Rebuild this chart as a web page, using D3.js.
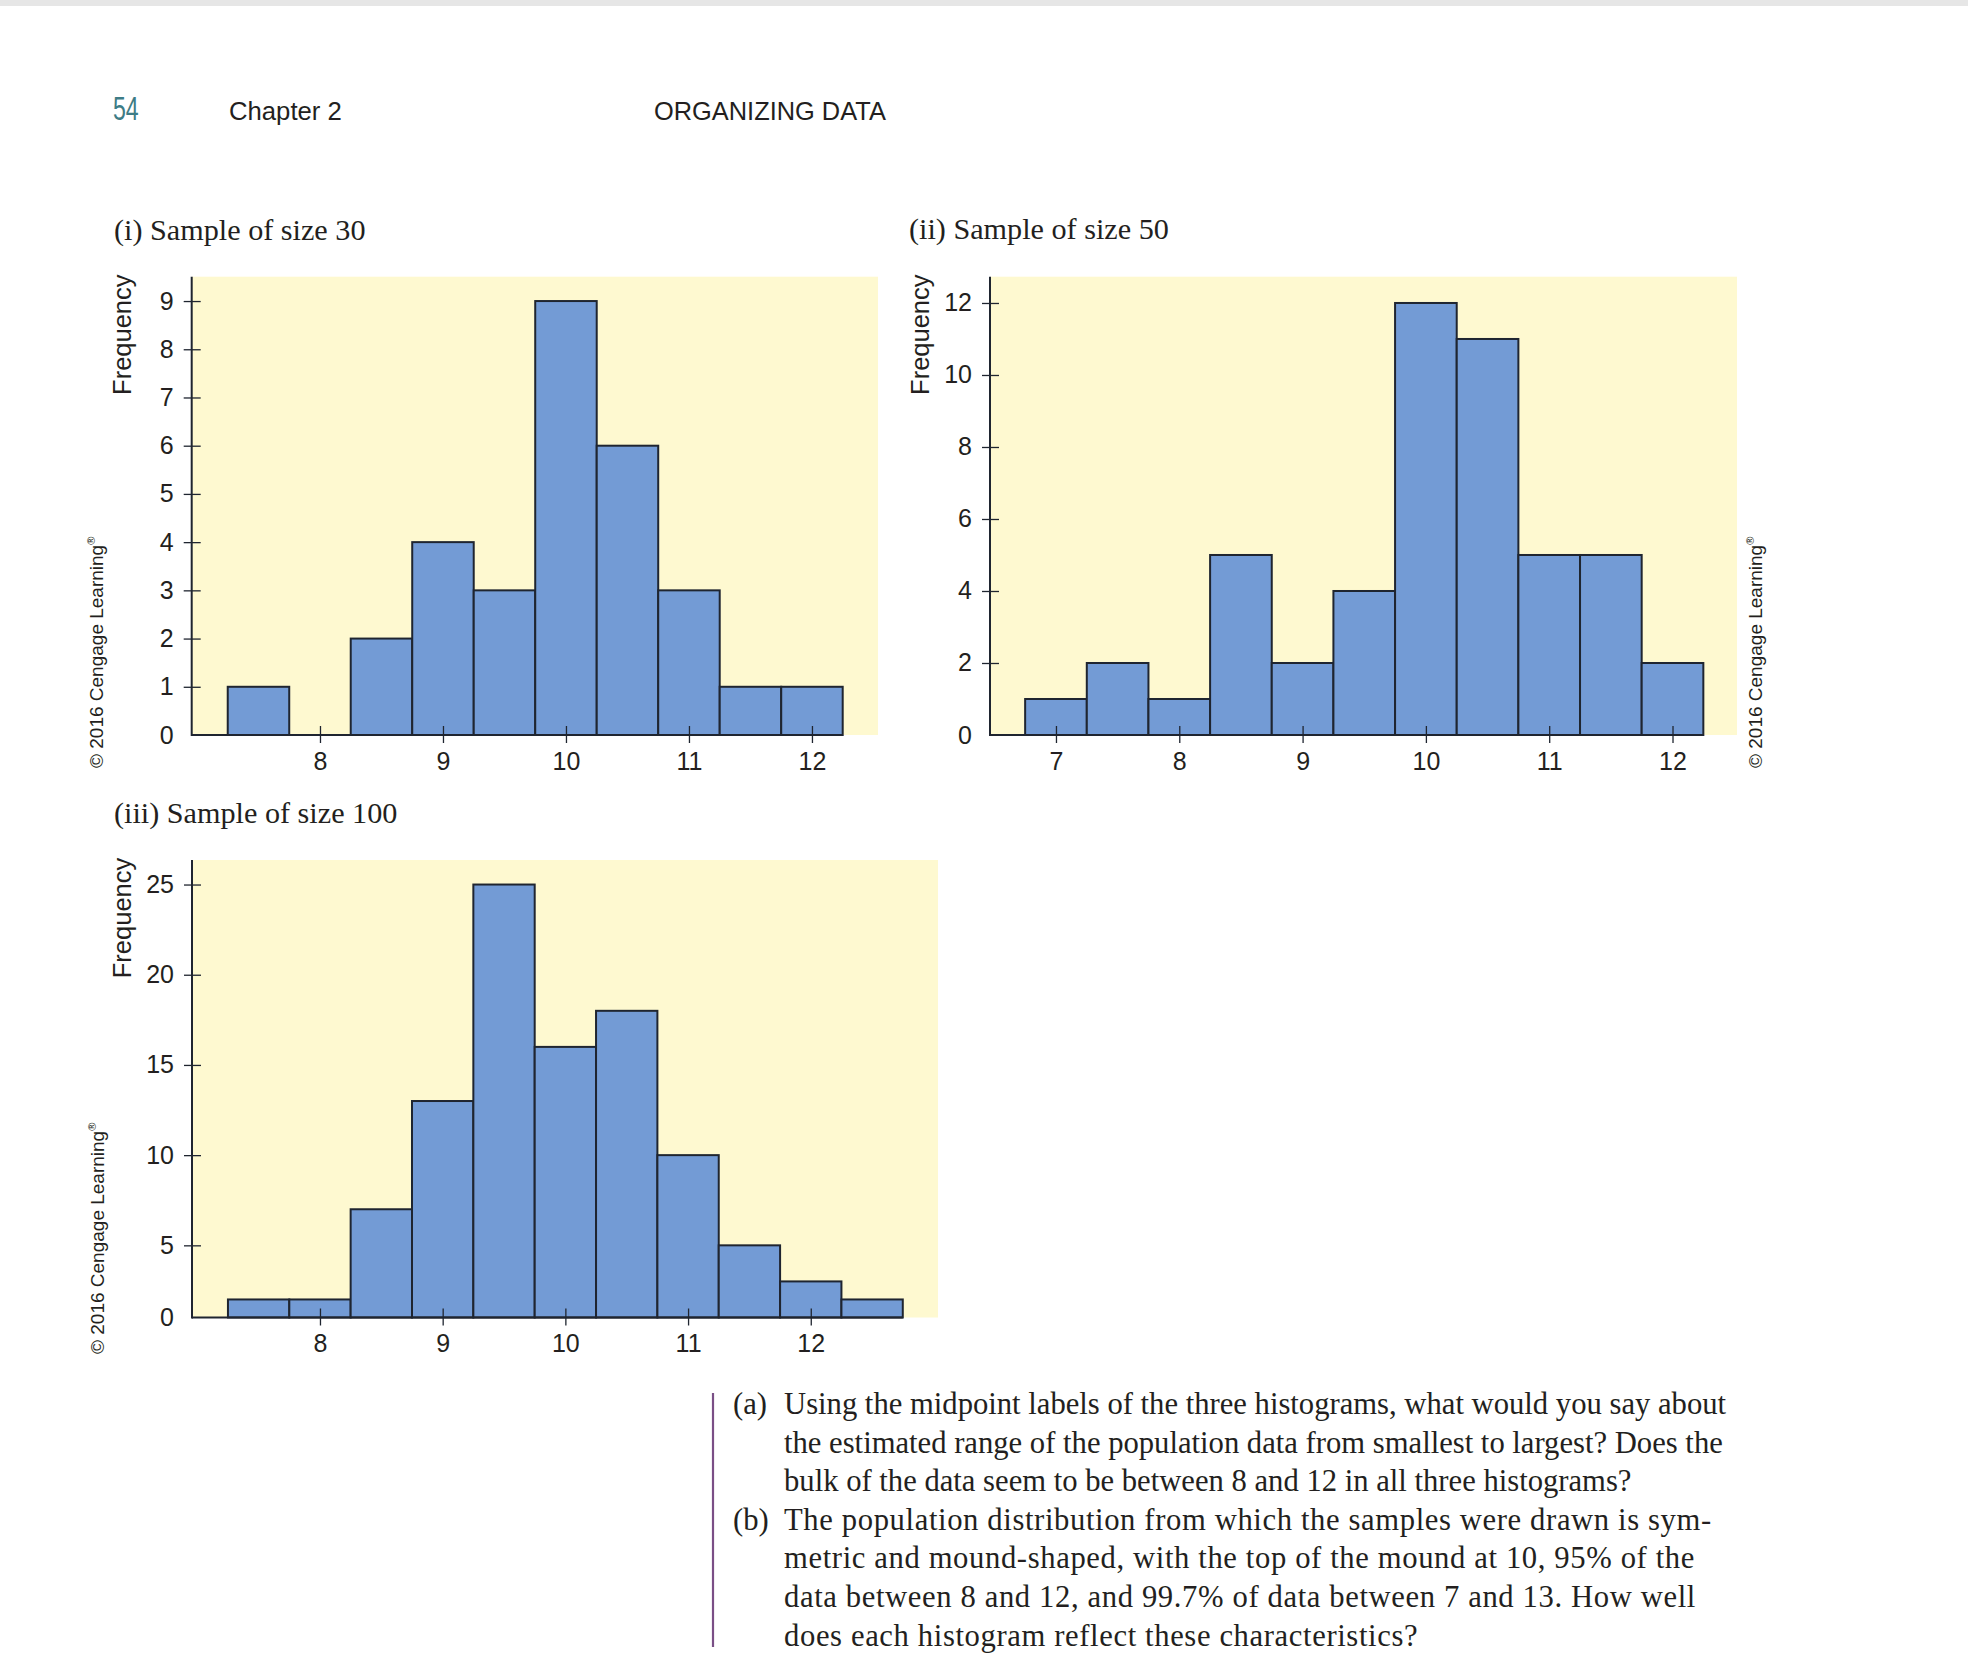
<!DOCTYPE html>
<html>
<head>
<meta charset="utf-8">
<script src="https://cdn.jsdelivr.net/npm/d3@7"></script>
<style>
  html, body { margin: 0; padding: 0; background: #ffffff; }
  svg { display: block; }
</style>
</head>
<body>
<svg id="page" width="1968" height="1678"></svg>
<script>
// ---------- data ----------
const binWidth = 0.5;

const binMid30  = [7.5, 8, 8.5, 9, 9.5, 10, 10.5, 11, 11.5, 12];
const freq30    = [1, 0, 2, 4, 3, 9, 6, 3, 1, 1];
const yTicks30  = [1, 2, 3, 4, 5, 6, 7, 8, 9];
const xTicks30  = [8, 9, 10, 11, 12];

const binMid50  = [7, 7.5, 8, 8.5, 9, 9.5, 10, 10.5, 11, 11.5, 12];
const freq50    = [1, 2, 1, 5, 2, 4, 12, 11, 5, 5, 2];
const yTicks50  = [2, 4, 6, 8, 10, 12];
const xTicks50  = [7, 8, 9, 10, 11, 12];

const binMid100 = [7.5, 8, 8.5, 9, 9.5, 10, 10.5, 11, 11.5, 12, 12.5];
const freq100   = [2, 2, 7, 13, 25, 16, 18, 10, 5, 3, 2];
const yTicks100 = [5, 10, 15, 20, 25];
const xTicks100 = [8, 9, 10, 11, 12];

const titles = ["(i) Sample of size 30", "(ii) Sample of size 50", "(iii) Sample of size 100"];
const yLabel = "Frequency";
const copyright = "\u00A9 2016 Cengage Learning";

const questionLines = [
  ["(a)", "Using the midpoint labels of the three histograms, what would you say about", 0],
  ["",    "the estimated range of the population data from smallest to largest? Does the", 0],
  ["",    "bulk of the data seem to be between 8 and 12 in all three histograms?", 0],
  ["(b)", "The population distribution from which the samples were drawn is sym-", 1],
  ["",    "metric and mound-shaped, with the top of the mound at 10, 95% of the", 1],
  ["",    "data between 8 and 12, and 99.7% of data between 7 and 13. How well", 1],
  ["",    "does each histogram reflect these characteristics?", 1]
];

// ---------- style ----------
const BG = "#fef9d0";
const BAR = "#739bd5";
const STROKE = "#1f2530";
const INK = "#231f20";
const SANS = "'Liberation Sans', Arial, Helvetica, sans-serif";
const SERIF = "'Liberation Serif', 'Times New Roman', Times, serif";

const svg = d3.select("#page");

// top grey band
svg.append("rect").attr("x", 0).attr("y", 0).attr("width", 1968).attr("height", 6).attr("fill", "#e6e6e6");

// header
svg.append("text").attr("transform", "translate(113,120) scale(0.68,1)")
  .attr("font-family", SANS).attr("font-size", 34).attr("fill", "#3d7c86").text("54");
svg.append("text").attr("x", 229).attr("y", 120)
  .attr("font-family", SANS).attr("font-size", 25.7).attr("fill", INK).text("Chapter 2");
svg.append("text").attr("x", 654).attr("y", 120)
  .attr("font-family", SANS).attr("font-size", 25.4).attr("fill", INK).text("ORGANIZING DATA");

// ---------- histogram ----------
function drawHist(cfg) {
  const x = d3.scaleLinear().domain(cfg.xDomain).range([cfg.left, cfg.right]);
  const y = d3.scaleLinear().domain([cfg.yBase, cfg.yMax]).range([cfg.bottom, cfg.top]);
  const g = svg.append("g");

  // title
  svg.append("text").attr("x", cfg.titleX).attr("y", cfg.titleY)
    .attr("font-family", SERIF).attr("font-size", 30.2).attr("fill", INK).text(cfg.title);

  // background
  g.append("rect").attr("x", cfg.left).attr("y", cfg.top)
    .attr("width", cfg.right - cfg.left).attr("height", cfg.bottom - cfg.top).attr("fill", BG);

  // bars
  const data = cfg.mids.map((m, i) => ({ m: m, f: cfg.freqs[i] })).filter(d => d.f > cfg.yBase);
  g.selectAll("rect.bar").data(data).join("rect").attr("class", "bar")
    .attr("x", d => x(d.m - binWidth / 2))
    .attr("width", d => x(d.m + binWidth / 2) - x(d.m - binWidth / 2))
    .attr("y", d => y(d.f))
    .attr("height", d => y(cfg.yBase) - y(d.f))
    .attr("fill", BAR).attr("stroke", STROKE).attr("stroke-width", 2);

  // baseline
  const lastRight = x(cfg.mids[cfg.mids.length - 1] + binWidth / 2);
  g.append("line").attr("x1", cfg.left).attr("x2", lastRight)
    .attr("y1", cfg.bottom).attr("y2", cfg.bottom)
    .attr("stroke", STROKE).attr("stroke-width", 2.2);

  // x axis
  const xa = g.append("g").attr("transform", `translate(0,${cfg.bottom})`)
    .call(d3.axisBottom(x).tickValues(cfg.xTicks).tickFormat(d3.format("d"))
      .tickSizeInner(8).tickSizeOuter(0).tickPadding(9));
  xa.select(".domain").remove();
  xa.selectAll(".tick line").attr("y1", -9).attr("y2", 8).attr("stroke", STROKE).attr("stroke-width", 1.3);
  xa.selectAll(".tick text").attr("font-family", SANS).attr("font-size", 25).attr("fill", INK);

  // y axis
  const ya = g.append("g").attr("transform", `translate(${cfg.left},0)`)
    .call(d3.axisLeft(y).tickValues(cfg.yTicks).tickFormat(d3.format("d"))
      .tickSizeInner(8).tickSizeOuter(0).tickPadding(10));
  ya.select(".domain").remove();
  ya.selectAll(".tick line").attr("x1", -8).attr("x2", 9).attr("stroke", STROKE).attr("stroke-width", 1.3);
  ya.selectAll(".tick text").attr("font-family", SANS).attr("font-size", 25).attr("fill", INK);
  // zero label at the baseline (no tick mark)
  g.append("text").attr("x", cfg.left - 18).attr("y", cfg.bottom).attr("dy", "0.34em")
    .attr("text-anchor", "end").attr("font-family", SANS).attr("font-size", 25).attr("fill", INK).text("0");

  // y axis line
  g.append("line").attr("x1", cfg.left).attr("x2", cfg.left)
    .attr("y1", cfg.top).attr("y2", cfg.bottom + 1)
    .attr("stroke", STROKE).attr("stroke-width", 2);

  // y label
  svg.append("text").attr("transform", `translate(${cfg.left - 61},${cfg.top + 58}) rotate(-90)`)
    .attr("text-anchor", "middle")
    .attr("font-family", SANS).attr("font-size", 25.5).attr("fill", INK).text(yLabel);

  // copyright
  const c = svg.append("text").attr("transform", `translate(${cfg.copyX},${cfg.copyY}) rotate(-90)`)
    .attr("font-family", SANS).attr("font-size", 19).attr("fill", INK).attr("dy", "0.35em");
  c.append("tspan").text(copyright);
  c.append("tspan").attr("font-size", 11).attr("baseline-shift", "70%").text("\u00AE");
}

drawHist({ title: titles[0], titleX: 114, titleY: 240,
  mids: binMid30, freqs: freq30, yTicks: yTicks30, xTicks: xTicks30,
  xDomain: [6.957, 12.537], left: 191.7, right: 878, top: 276.7, bottom: 735,
  yBase: 0, yMax: 9.505, copyX: 96, copyY: 768 });

drawHist({ title: titles[1], titleX: 909, titleY: 239,
  mids: binMid50, freqs: freq50, yTicks: yTicks50, xTicks: xTicks50,
  xDomain: [6.465, 12.523], left: 990, right: 1737, top: 276.7, bottom: 735,
  yBase: 0, yMax: 12.73, copyX: 1755, copyY: 768 });

drawHist({ title: titles[2], titleX: 114, titleY: 823,
  mids: binMid100, freqs: freq100, yTicks: yTicks100, xTicks: xTicks100,
  xDomain: [6.957, 13.037], left: 192, right: 938, top: 860, bottom: 1317.5,
  yBase: 1, yMax: 26.36, copyX: 97, copyY: 1354 });

// ---------- question text ----------
svg.append("line").attr("x1", 713).attr("x2", 713).attr("y1", 1393).attr("y2", 1647)
  .attr("stroke", "#7a4f86").attr("stroke-width", 2.2);

const qg = svg.append("g").attr("font-family", SERIF).attr("font-size", 30.65).attr("fill", INK);
questionLines.forEach((ln, i) => {
  const yy = 1414 + i * 38.6;
  if (ln[0]) qg.append("text").attr("x", 733).attr("y", yy).text(ln[0]);
  qg.append("text").attr("x", 784).attr("y", yy)
    .attr("letter-spacing", ln[2] ? 0.62 : 0).text(ln[1]);
});
</script>
</body>
</html>
